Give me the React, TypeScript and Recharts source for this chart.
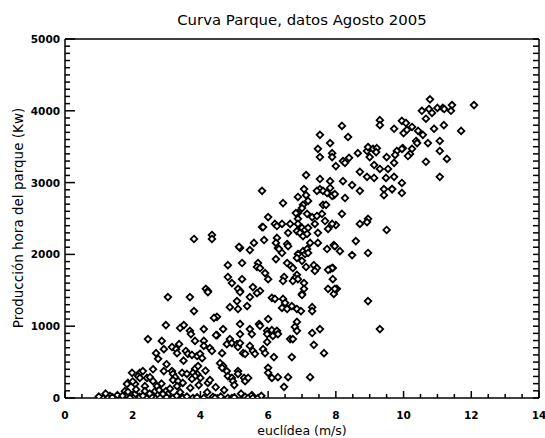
import { Scatter, ScatterChart, XAxis, YAxis } from 'recharts';

// Tick values (IDL style: labelled majors + unlabelled minors)
const X_MAJOR = [0, 2, 4, 6, 8, 10, 12, 14];
const Y_MAJOR = [0, 1000, 2000, 3000, 4000, 5000];
const X_ALL = Array.from({ length: 29 }, (_, i) => i * 0.5);
const Y_ALL = Array.from({ length: 51 }, (_, i) => i * 100);
const X_MINOR = X_ALL.filter((v) => !X_MAJOR.includes(v));
const Y_MINOR = Y_ALL.filter((v) => !Y_MAJOR.includes(v));
const X_MAX = 14;
const Y_MAX = 5000;

// [wind speed m/s, hourly production kW]
const upperCluster: [number, number][] = [
  [10.78, 4160], [10.54, 4000], [10.66, 3890], [10.75, 4025], [10.84, 3970], [11.0, 4040],
  [11.16, 4040], [11.2, 4025], [11.43, 4080], [11.4, 4000], [12.08, 4080], [11.7, 3720],
  [9.72, 3750], [9.95, 3860], [10.07, 3830], [10.25, 3775], [10.43, 3720], [10.57, 3665],
  [10.0, 3690], [10.1, 3735], [10.9, 3750], [11.19, 3800], [10.37, 3580], [10.4, 3550],
  [10.72, 3550], [11.07, 3580], [9.98, 3480], [9.95, 3470], [10.25, 3470], [10.19, 3400],
  [10.13, 3370], [9.8, 3440], [9.75, 3385], [11.07, 3440], [11.28, 3330], [9.72, 3275],
  [10.66, 3290], [9.72, 3080], [11.07, 3080], [9.95, 2995], [9.66, 2910], [9.95, 2855],
  [9.3, 3870], [9.3, 3800], [8.18, 3790], [7.53, 3665], [8.36, 3635], [7.83, 3550],
  [7.47, 3470], [7.53, 3355], [7.89, 3410], [7.89, 3355], [8.21, 3300], [8.27, 3275],
  [8.39, 3345], [8.0, 3230], [8.65, 3410], [8.92, 3440], [8.95, 3495], [9.1, 3470],
  [9.21, 3480], [9.19, 3425], [9.0, 3355], [9.13, 3245], [9.3, 3190], [9.5, 3355],
  [9.54, 3190], [7.12, 3105], [7.53, 3050], [7.83, 3020], [8.21, 3020], [8.48, 2965],
  [8.92, 3080], [9.13, 3065], [9.48, 3065], [8.71, 3150],
];

const rightSparse: [number, number][] = [
  [8.71, 2885], [9.42, 2910], [9.66, 2910], [9.42, 2825], [7.94, 2825], [8.27, 2785],
  [8.18, 2565], [8.0, 2410], [8.71, 2425], [8.95, 2495], [8.92, 2450], [9.5, 2340],
  [7.94, 2130], [8.12, 2045], [8.48, 1990], [8.59, 2185], [8.95, 2020], [7.91, 1810],
  [7.91, 1655], [8.03, 1520], [7.94, 1450], [8.95, 1350], [9.3, 960],
];

const middleBand: [number, number][] = [
  [5.82, 2885], [7.06, 2910], [7.53, 2910], [7.62, 2885], [7.74, 2855], [7.83, 2925],
  [7.89, 2815], [7.97, 2840], [6.88, 2800], [7.12, 2825], [7.18, 2745], [7.44, 2885],
  [6.44, 2715], [7.03, 2690], [7.0, 2645], [6.88, 2575], [6.82, 2575], [7.62, 2690],
  [7.71, 2690], [7.15, 2565], [7.3, 2520], [7.44, 2535], [7.59, 2565], [6.0, 2520],
  [6.88, 2495], [6.88, 2425], [6.65, 2425], [6.59, 2300], [6.2, 2425], [6.26, 2395],
  [6.41, 2425], [5.82, 2380], [7.0, 2370], [7.09, 2340], [7.18, 2370], [7.38, 2425],
  [7.47, 2300], [7.68, 2465], [7.89, 2425], [7.77, 2355], [6.85, 2325], [6.94, 2300],
  [7.03, 2255], [7.15, 2285], [6.26, 2230], [6.23, 2160], [6.56, 2145], [6.59, 2115],
  [7.24, 2160], [7.47, 2160], [7.74, 2075], [6.29, 2090], [6.32, 2075], [6.41, 2020],
  [5.17, 2090], [5.58, 2160], [5.46, 2060], [7.03, 2045], [7.15, 2075], [7.09, 2005],
  [7.18, 2020], [6.88, 2005], [6.85, 1950], [7.0, 1910], [6.23, 1935], [6.56, 1880],
  [6.67, 1840], [6.73, 1810], [7.35, 1850], [7.44, 1810], [7.38, 1770], [7.12, 1825],
  [7.83, 1795], [7.89, 1810], [7.77, 1785], [5.23, 1880], [5.7, 1880], [5.67, 1825],
  [5.76, 1810], [5.91, 1740], [6.85, 1715], [6.79, 1670], [6.88, 1655], [6.73, 1630],
  [6.47, 1685], [6.44, 1630], [6.0, 1655], [7.06, 1600], [5.23, 1655], [5.55, 1545],
  [5.17, 1490], [7.06, 1520], [7.77, 1520], [7.97, 1520], [5.76, 1490], [7.0, 1450],
  [5.85, 2380], [5.88, 2200], [7.97, 2115],
];

const lowerMiddle: [number, number][] = [
  [3.81, 2215], [4.34, 2270], [4.34, 2215], [5.14, 2105], [4.81, 1850], [4.81, 1685],
  [4.93, 1600], [4.16, 1520], [4.22, 1490], [5.11, 1520], [4.22, 1475], [5.17, 1475],
  [5.46, 1405], [5.67, 1460], [4.87, 1265], [5.08, 1350], [5.11, 1240], [5.38, 1280],
  [6.11, 1395], [6.2, 1380], [6.44, 1380], [6.5, 1325], [6.41, 1255], [6.56, 1240],
  [6.7, 1280], [6.85, 1240], [6.97, 1210], [7.0, 1435], [7.3, 1265], [7.3, 1210],
  [4.49, 1130], [6.0, 1100], [6.85, 1060], [6.79, 990], [6.85, 935], [4.1, 960],
  [4.67, 960], [4.49, 875], [5.17, 1030], [5.17, 890], [5.46, 960], [5.52, 890],
  [5.73, 1030], [5.76, 1005], [5.97, 935], [5.97, 890], [6.11, 945], [6.14, 865],
  [6.26, 905], [7.3, 905], [7.53, 960], [7.35, 740], [7.65, 625], [6.65, 820],
  [6.7, 570], [3.84, 795], [4.1, 795], [4.1, 725], [4.28, 695], [4.34, 655],
  [3.9, 585], [3.99, 615], [4.05, 555], [4.64, 625], [4.78, 750], [4.87, 820],
  [4.93, 765], [5.08, 750], [5.11, 710], [5.17, 765], [5.26, 625], [5.32, 615],
  [5.46, 725], [5.55, 655], [5.61, 615], [5.85, 680], [5.91, 625], [5.97, 780],
  [6.17, 570], [4.58, 485], [4.67, 445], [4.64, 420], [4.78, 375], [5.11, 375],
  [5.11, 335], [4.81, 305], [4.93, 280], [4.96, 235], [5.0, 180], [5.29, 280],
  [5.32, 235], [5.41, 280], [6.0, 420], [6.0, 350], [6.11, 280], [6.29, 290],
  [6.59, 290], [7.24, 290], [6.47, 155], [4.22, 210], [4.28, 250], [4.0, 280],
  [3.9, 335], [3.84, 405], [4.37, 15], [4.43, 0], [4.81, 0], [4.93, 0],
  [5.32, 15], [5.41, 0], [5.52, 40], [5.55, 0], [4.4, 1115], [4.46, 875],
  [6.26, 935], [6.29, 890], [6.73, 820],
];

const lowWind: [number, number][] = [
  [3.04, 1405], [3.69, 1405], [3.81, 1210], [2.98, 1015], [3.4, 975], [3.51, 1015],
  [3.69, 935], [3.72, 890], [2.45, 820], [2.86, 795], [3.16, 710], [3.28, 680],
  [3.37, 750], [3.31, 625], [2.92, 680], [2.69, 625], [2.75, 545], [3.57, 655],
  [3.63, 615], [3.75, 600], [3.93, 445], [3.78, 350], [3.84, 305], [3.75, 265],
  [1.98, 350], [2.21, 350], [2.3, 375], [2.16, 305], [2.42, 280], [2.51, 290],
  [1.86, 210], [2.07, 195], [1.77, 95], [2.92, 375], [3.16, 375], [3.19, 335],
  [3.25, 290], [3.19, 250], [3.46, 350], [3.6, 335], [3.34, 235], [3.48, 210],
  [3.31, 165], [2.6, 235], [2.72, 165], [2.66, 95], [2.78, 110], [2.36, 165],
  [2.36, 95], [2.98, 95], [3.04, 55], [2.89, 55], [2.07, 55], [2.01, 0],
  [1.62, 0], [1.33, 30], [1.83, 195], [1.86, 85], [2.21, 280],
  [1.03, 0], [1.12, 0], [1.27, 0], [1.48, 0], [1.71, 0], [1.92, 0], [2.21, 15],
  [2.42, 0], [2.66, 0], [2.81, 0], [3.19, 0], [3.48, 0], [3.78, 0], [1.0, 20],
  [1.4, 10], [1.55, 40], [2.3, 30], [2.55, 20], [3.0, 10], [3.3, 30], [3.6, 20],
  [3.9, 10], [4.1, 0], [4.6, 20], [5.0, 10], [5.7, 0], [5.8, 30],
  [1.2, 60], [1.7, 30], [2.1, 120], [2.5, 60], [2.85, 200], [3.1, 130], [3.4, 80],
  [3.7, 140], [4.2, 80], [4.7, 110], [5.2, 60], [2.0, 230], [2.6, 400], [3.0, 470],
  [3.5, 520], [4.15, 380], [4.45, 150], [3.95, 180],
];

const points = [...upperCluster, ...rightSparse, ...middleBand, ...lowerMiddle, ...lowWind].map(
  ([viento, produccion]) => ({ viento, produccion }),
);

// minor tick marks on bottom/left, placed through the axis scales
const bottomMinor = X_MINOR.map((v) => ({ viento: v, produccion: 0 }));
const leftMinor = Y_MINOR.map((v) => ({ viento: 0, produccion: v }));

const FONT = '"DejaVu Sans", sans-serif';
const AXIS = { stroke: '#000', strokeWidth: 1.5 };
const TICK = { stroke: '#000', strokeWidth: 1.5 };

function Diamond(props: any) {
  const { cx, cy } = props;
  const r = 3.3;
  return (
    <path
      d={`M${cx},${cy - r}L${cx + r},${cy}L${cx},${cy + r}L${cx - r},${cy}Z`}
      fill="#fff"
      stroke="#000"
      strokeWidth={1.8}
    />
  );
}

function VTick(props: any) {
  const { cx, cy } = props;
  return <rect x={cx - 0.75} y={cy - 4} width={1.5} height={4} fill="#000" />;
}

function HTick(props: any) {
  const { cx, cy } = props;
  return <rect x={cx} y={cy - 0.75} width={5} height={1.5} fill="#000" />;
}

// tick lines point inward (negative tickSize), so labels are pushed back out
function BottomLabel({ x, y, payload }: any) {
  return (
    <text x={x} y={y + 28} textAnchor="middle" fontFamily={FONT} fontWeight="bold" fontSize={10.5} fill="#000">
      {payload.value}
    </text>
  );
}

function LeftLabel({ x, y, payload }: any) {
  return (
    <text x={x - 15} y={y + 4} textAnchor="end" fontFamily={FONT} fontWeight="bold" fontSize={10.5} fill="#000">
      {payload.value}
    </text>
  );
}

const NoLabel = () => <g />;

export default function App() {
  return (
    <div style={{ position: 'absolute', left: 0, top: 0, width: 545, height: 438, background: '#fff' }}>
      <ScatterChart width={545} height={438} margin={{ top: 0, right: 0, left: 5, bottom: 0 }}>
        <XAxis
          type="number"
          dataKey="viento"
          domain={[0, X_MAX]}
          ticks={X_MAJOR}
          interval={0}
          height={40}
          tickSize={-7}
          tickMargin={0}
          tickLine={TICK}
          axisLine={AXIS}
          tick={(p: any) => <BottomLabel {...p} />}
          allowDataOverflow
        />
        <XAxis
          xAxisId="top"
          orientation="top"
          type="number"
          domain={[0, X_MAX]}
          ticks={X_ALL}
          interval={0}
          height={39}
          tickSize={-5}
          tickMargin={0}
          tickLine={TICK}
          axisLine={AXIS}
          tick={NoLabel}
          allowDataOverflow
        />
        <YAxis
          type="number"
          dataKey="produccion"
          domain={[0, Y_MAX]}
          ticks={Y_MAJOR}
          interval={0}
          width={60}
          tickSize={-10}
          tickMargin={0}
          tickLine={TICK}
          axisLine={AXIS}
          tick={(p: any) => <LeftLabel {...p} />}
          allowDataOverflow
        />
        <YAxis
          yAxisId="right"
          orientation="right"
          type="number"
          domain={[0, Y_MAX]}
          ticks={Y_ALL}
          interval={0}
          width={6}
          tickSize={-6}
          tickMargin={0}
          tickLine={TICK}
          axisLine={AXIS}
          tick={NoLabel}
          allowDataOverflow
        />
        <Scatter data={bottomMinor} shape={(p: any) => <VTick {...p} />} isAnimationActive={false} />
        <Scatter data={leftMinor} shape={(p: any) => <HTick {...p} />} isAnimationActive={false} />
        <Scatter data={points} shape={(p: any) => <Diamond {...p} />} isAnimationActive={false} />
      </ScatterChart>
      <div
        style={{
          position: 'absolute', left: 52, top: 13, width: 500, textAlign: 'center',
          fontFamily: FONT, fontSize: 14.9, lineHeight: '15px', color: '#000', whiteSpace: 'nowrap',
        }}
      >
        Curva Parque, datos Agosto 2005
      </div>
      <div
        style={{
          position: 'absolute', left: 152, top: 424, width: 300, textAlign: 'center',
          fontFamily: FONT, fontSize: 12.5, lineHeight: '13px', color: '#000', whiteSpace: 'nowrap',
        }}
      >
        euclídea (m/s)
      </div>
      <div
        style={{
          position: 'absolute', left: 18 - 150, top: 218 - 7, width: 300, height: 14, textAlign: 'center',
          fontFamily: FONT, fontSize: 13.5, lineHeight: '14px', color: '#000', whiteSpace: 'nowrap',
          transform: 'rotate(-90deg)',
        }}
      >
        Producción hora del parque (Kw)
      </div>
    </div>
  );
}
